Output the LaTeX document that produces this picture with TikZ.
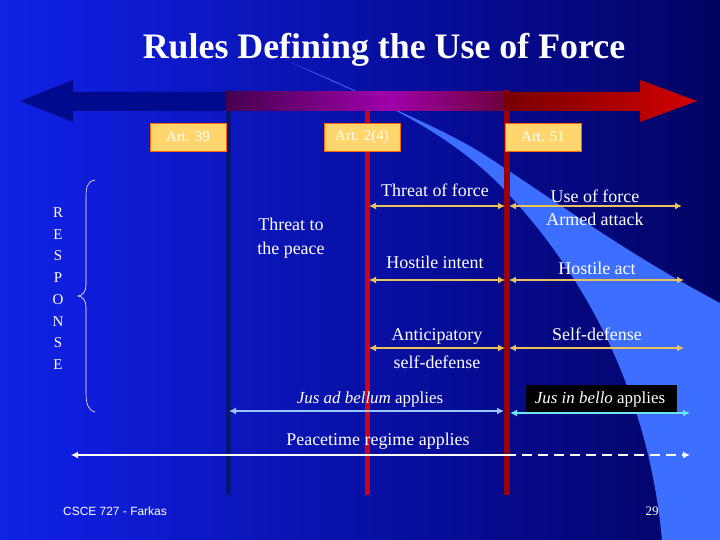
\documentclass[tikz,border=0pt]{standalone}
\usepackage{fontspec}
\setmainfont{Liberation Serif}
\setsansfont{Liberation Sans}
\usetikzlibrary{arrows.meta,shapes.geometric}
\definecolor{artfill}{RGB}{255,214,110}
\definecolor{tan}{RGB}{235,195,90}
\definecolor{swoosh}{RGB}{60,110,255}
\definecolor{lblue}{RGB}{150,200,255}
\definecolor{cyanish}{RGB}{110,230,240}
\definecolor{bgA}{RGB}{25,55,255}
\definecolor{bgB}{RGB}{15,30,220}
\definecolor{bgC}{RGB}{5,10,140}
\definecolor{bgD}{RGB}{0,0,70}
\pgfdeclarehorizontalshading{bgshade}{100bp}{color(0bp)=(bgA); color(30bp)=(bgB); color(60bp)=(bgC); color(85bp)=(bgD); color(100bp)=(black)}
\tikzset{
  lbl/.style={text=white,font=\fontsize{18}{23}\selectfont,align=center,inner sep=1pt},
  artbox/.style={fill=artfill,draw=orange!80!red,line width=0.8pt,text=white,minimum width=76bp,minimum height=28bp,font=\fontsize{15}{16}\selectfont},
  span/.style={{Latex[length=7bp,width=7bp]}-{Latex[length=7bp,width=7bp]},line width=1.5pt},
  letter/.style={text=white,font=\fontsize{15}{16}\selectfont,inner sep=0pt}
}
\begin{document}
\begin{tikzpicture}[x=1bp,y=-1bp]
\useasboundingbox (0,0) rectangle (720,540);
\shade[shading=bgshade] (0,0) rectangle (720,540);
% swoosh
\fill[swoosh] (290,62) .. controls (400,112) and (440,128) .. (480,152) .. controls (540,190) and (620,250) .. (720,303) -- (720,540) -- (662,540) .. controls (652,430) and (610,300) .. (500,185) .. controls (440,125) and (360,92) .. (290,62) -- cycle;
% vertical lines
\draw[line width=5bp,color={rgb,255:red,10;green,20;blue,120}] (228,90) -- (228,495);
\draw[line width=5bp,color={rgb,255:red,210;green,0;blue,20}] (367,110) -- (367,495);
\draw[line width=6bp,color={rgb,255:red,150;green,0;blue,10}] (507,90) -- (507,495);
% big arrow
\fill[color={rgb,255:red,0;green,10;blue,140}] (20,101) -- (73,80) -- (73,92) -- (228,92) -- (228,111) -- (73,111) -- (73,122) -- cycle;
\shade[left color={rgb,255:red,70;green,0;blue,80},right color={rgb,255:red,160;green,0;blue,170}] (226,92) rectangle (390,111);
\shade[left color={rgb,255:red,160;green,0;blue,170},right color={rgb,255:red,110;green,0;blue,60}] (389,92) rectangle (505,111);
\shade[left color={rgb,255:red,120;green,0;blue,0},right color={rgb,255:red,210;green,0;blue,0}] (504,92) -- (640,92) -- (640,80) -- (697,101) -- (640,122) -- (640,111) -- (504,111) -- cycle;
% title
\node[text=white,font=\bfseries\fontsize{36}{37}\selectfont] (title) at (384,50) {Rules Defining the Use of Force};
% art boxes
\node[artbox] (a39) at (188,137) {Art. 39};
\node[artbox] (a24) at (362,137) {Art. 2(4)};
\node[artbox] (a51) at (543,137) {Art. 51};
% coordinates
\coordinate (r1) at (369,206); \coordinate (m1) at (505,206); \coordinate (e1) at (682,206);
\coordinate (r2) at (369,280); \coordinate (m2) at (505,280); \coordinate (e2) at (684,280);
\coordinate (r3) at (369,348); \coordinate (m3) at (505,348); \coordinate (e3) at (684,348);
\draw[span,tan] (r1) -- (m1); \draw[span,tan] ([xshift=4]m1) -- (e1);
\draw[span,tan] (r2) -- (m2); \draw[span,tan] ([xshift=4]m2) -- (e2);
\draw[span,tan] (r3) -- (m3); \draw[span,tan] ([xshift=4]m3) -- (e3);
\node[lbl] (tof) at (435,190) {Threat of force};
\node[lbl] (uof) at (595,208) {Use of force\\Armed attack};
\node[lbl,font=\fontsize{18}{24}\selectfont] (ttp) at (291,238) {Threat to\\the peace};
\node[lbl] (hi) at (435,262) {Hostile intent};
\node[lbl] (ha) at (597,268) {Hostile act};
\node[lbl,font=\fontsize{18}{28}\selectfont] (asd) at (437,349) {Anticipatory\\self-defense};
\node[lbl] (sd) at (597,334) {Self-defense};
% jus
\fill[black] (526,385) rectangle (677,412);
\node[lbl,font=\fontsize{17}{18}\selectfont] (jab) at (370,399) {\textit{Jus ad bellum} applies};
\node[lbl,font=\fontsize{17}{18}\selectfont] (jib) at (600,399) {\textit{Jus in bello} applies};
\coordinate (j1) at (229,411); \coordinate (j2) at (504,411);
\coordinate (j3) at (510,413); \coordinate (j4) at (690,413);
\draw[span,lblue] (j1) -- (j2);
\draw[span,cyanish] (j3) -- (j4);
\node[lbl,font=\fontsize{18}{19}\selectfont] (pra) at (378,441) {Peacetime regime applies};
\coordinate (p1) at (71,455); \coordinate (p2) at (506,455); \coordinate (p3) at (690,455);
\draw[white,line width=1.2pt,{Latex[length=7bp,width=7bp]}-] (p1) -- (p2);
\draw[white,line width=1.2pt,dash pattern=on 10bp off 6bp,-{Latex[length=7bp,width=7bp]}] (p2) -- (p3);
% RESPONSE
\foreach \l [count=\i] in {R,E,S,P,O,N,S,E}
  \node[letter] (L\i) at (58,191+\i*21.7) {\l};
\draw[white,line width=0.6pt] (95,180) .. controls (86,182) and (86,188) .. (86,200) -- (86,285) .. controls (86,292) and (82,296) .. (78,296) .. controls (82,296) and (86,300) .. (86,307) -- (86,392) .. controls (86,404) and (88,410) .. (95,412);
% footer
\node[text=white,font=\sffamily\fontsize{12}{13}\selectfont] (foot) at (115,511) {CSCE 727 - Farkas};
\node[text=white,font=\fontsize{13}{14}\selectfont] (pg) at (652,511) {29};
\end{tikzpicture}
\end{document}
